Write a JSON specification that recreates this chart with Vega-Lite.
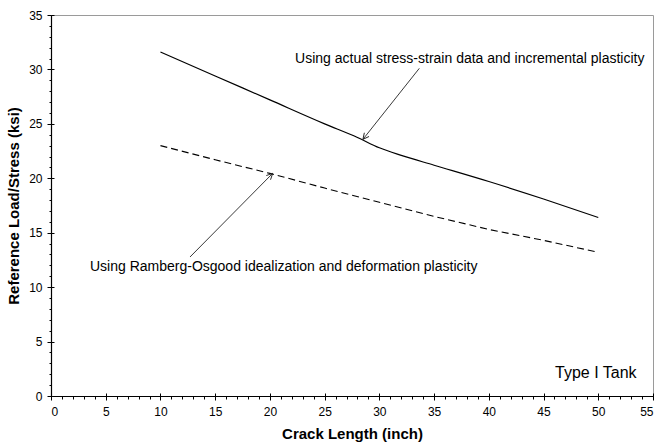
{
  "$schema": "https://vega.github.io/schema/vega-lite/v6.json",
  "autosize": {"type": "none"},
  "padding": {"left": 51, "top": 15, "right": 7, "bottom": 49},
  "width": 602,
  "height": 381,
  "config": {
    "font": "Liberation Sans",
    "view": {"stroke": "#9a9a9a", "strokeWidth": 1},
    "axis": {"grid": false, "labelFont": "Liberation Sans", "titleFont": "Liberation Sans", "labelColor": "#000", "titleColor": "#000", "tickColor": "#000", "domainColor": "#000"}
  },
  "datasets": {
    "actual": [
      {"x": 10, "y": 31.6}, {"x": 15, "y": 29.4}, {"x": 20, "y": 27.2}, {"x": 25, "y": 25.0},
      {"x": 28, "y": 23.75}, {"x": 30, "y": 22.8}, {"x": 32, "y": 22.1}, {"x": 35, "y": 21.2},
      {"x": 40, "y": 19.7}, {"x": 45, "y": 18.1}, {"x": 50, "y": 16.4}
    ],
    "ramberg": [
      {"x": 10, "y": 23.0}, {"x": 15, "y": 21.7}, {"x": 20, "y": 20.45}, {"x": 25, "y": 19.1},
      {"x": 30, "y": 17.8}, {"x": 35, "y": 16.5}, {"x": 40, "y": 15.3}, {"x": 45, "y": 14.3}, {"x": 50, "y": 13.2}
    ],
    "arrow1": [{"x": 33.65, "y": 30.1}, {"x": 28.5, "y": 23.58}],
    "arrow2": [{"x": 12.7, "y": 12.77}, {"x": 20.25, "y": 20.45}],
    "tip1": [{"x": 28.5, "y": 23.58}],
    "tip2": [{"x": 20.25, "y": 20.45}],
    "labels": [
      {"x": 22.3, "y": 30.96, "t": "Using actual stress-strain data and incremental plasticity"},
      {"x": 3.56, "y": 11.85, "t": "Using Ramberg-Osgood idealization and deformation plasticity"}
    ],
    "tank": [{"x": 46.05, "y": 2.14, "t": "Type I Tank"}]
  },
  "resolve": {"axis": {"x": "independent", "y": "independent"}},
  "layer": [
    {
      "data": {"name": "actual"},
      "mark": {"type": "line", "color": "#000", "strokeWidth": 1.2, "interpolate": "monotone"},
      "encoding": {
        "x": {"field": "x", "type": "quantitative", "scale": {"domain": [0, 55], "nice": false, "zero": false},
          "axis": {"orient": "bottom", "title": "Crack Length (inch)", "titleFontSize": 15, "titleFontWeight": "bold", "titlePadding": 9,
            "values": [0,5,10,15,20,25,30,35,40,45,50,55], "tickSize": 4, "labelFontSize": 12, "labelPadding": 6, "format": "d", "domainWidth": 1.2}},
        "y": {"field": "y", "type": "quantitative", "scale": {"domain": [0, 35], "nice": false, "zero": false},
          "axis": {"orient": "left", "title": "Reference Load/Stress (ksi)", "titleFontSize": 15, "titleFontWeight": "bold", "titlePadding": 7,
            "values": [0,5,10,15,20,25,30,35], "tickSize": 4, "labelFontSize": 12, "labelPadding": 5, "format": "d", "domainWidth": 1.2}}
      }
    },
    {
      "data": {"name": "ramberg"},
      "mark": {"type": "line", "color": "#000", "strokeWidth": 1.1, "strokeDash": [7, 4]},
      "encoding": {
        "x": {"field": "x", "type": "quantitative",
          "axis": {"orient": "bottom", "title": null, "labels": false, "domain": false, "tickSize": 3,
            "values": [0,1,2,3,4,5,6,7,8,9,10,11,12,13,14,15,16,17,18,19,20,21,22,23,24,25,26,27,28,29,30,31,32,33,34,35,36,37,38,39,40,41,42,43,44,45,46,47,48,49,50,51,52,53,54,55]}},
        "y": {"field": "y", "type": "quantitative",
          "axis": {"orient": "left", "title": null, "labels": false, "domain": false, "tickSize": 2,
            "values": [0,1,2,3,4,5,6,7,8,9,10,11,12,13,14,15,16,17,18,19,20,21,22,23,24,25,26,27,28,29,30,31,32,33,34,35]}}
      }
    },
    {
      "data": {"name": "arrow1"},
      "mark": {"type": "line", "color": "#222", "strokeWidth": 0.9},
      "encoding": {
        "x": {"field": "x", "type": "quantitative",
          "axis": {"orient": "bottom", "title": null, "labels": false, "domain": false, "tickSize": -3, "values": [0,5,10,15,20,25,30,35,40,45,50,55]}},
        "y": {"field": "y", "type": "quantitative",
          "axis": {"orient": "left", "title": null, "labels": false, "domain": false, "tickSize": -3, "values": [0,5,10,15,20,25,30,35]}}
      }
    },
    {
      "data": {"name": "arrow2"},
      "mark": {"type": "line", "color": "#222", "strokeWidth": 0.9},
      "encoding": {
        "x": {"field": "x", "type": "quantitative", "axis": null},
        "y": {"field": "y", "type": "quantitative", "axis": null}
      }
    },
    {
      "data": {"name": "tip1"},
      "mark": {"type": "point", "shape": "M-0.5,1 L0,0 L0.5,1", "size": 144, "filled": false, "stroke": "#222", "strokeWidth": 0.9, "angle": 218.6, "opacity": 1},
      "encoding": {
        "x": {"field": "x", "type": "quantitative", "axis": null},
        "y": {"field": "y", "type": "quantitative", "axis": null}
      }
    },
    {
      "data": {"name": "tip2"},
      "mark": {"type": "point", "shape": "M-0.5,1 L0,0 L0.5,1", "size": 144, "filled": false, "stroke": "#222", "strokeWidth": 0.9, "angle": 44.7, "opacity": 1},
      "encoding": {
        "x": {"field": "x", "type": "quantitative", "axis": null},
        "y": {"field": "y", "type": "quantitative", "axis": null}
      }
    },
    {
      "data": {"name": "labels"},
      "mark": {"type": "text", "align": "left", "baseline": "middle", "fontSize": 14, "color": "#000", "font": "Liberation Sans"},
      "encoding": {
        "x": {"field": "x", "type": "quantitative", "axis": null},
        "y": {"field": "y", "type": "quantitative", "axis": null},
        "text": {"field": "t"}
      }
    },
    {
      "data": {"name": "tank"},
      "mark": {"type": "text", "align": "left", "baseline": "middle", "fontSize": 16, "color": "#000", "font": "Liberation Sans"},
      "encoding": {
        "x": {"field": "x", "type": "quantitative", "axis": null},
        "y": {"field": "y", "type": "quantitative", "axis": null},
        "text": {"field": "t"}
      }
    }
  ]
}
